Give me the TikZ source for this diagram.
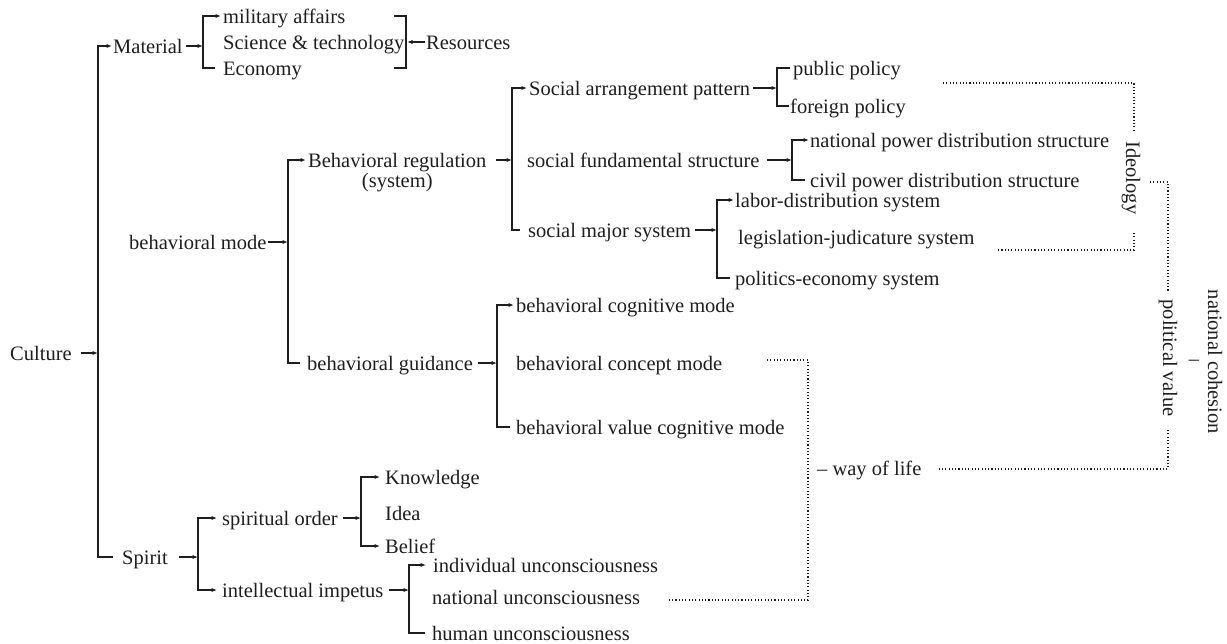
\documentclass[tikz,border=0pt]{standalone}
\usepackage{fontspec}
\setmainfont{Liberation Serif}
\usetikzlibrary{arrows.meta}
\definecolor{ink}{HTML}{1E1E1E}
\begin{document}
\begin{tikzpicture}[x=1pt,y=-1pt,
  tf/.style={inner sep=0pt,text height=15pt,text depth=1pt,font=\fontsize{20.5}{22}\selectfont,text=ink},
  txt/.style={tf,anchor=west},
  rtxt/.style={tf,anchor=center,rotate=-90},
  ln/.style={draw=ink,line width=1.15pt},
  arr/.style={ln,-{Latex[length=5.5pt,width=4.2pt]}},
  barr/.style={ln,{Latex[length=5.5pt,width=4.2pt]}-{Latex[length=5.5pt,width=4.2pt]}},
  dot/.style={draw=ink,line width=1.15pt,dash pattern=on 1.1pt off 2.2pt}]
\useasboundingbox (0,0) rectangle (1227,643);
% vertical bracket positions
\coordinate (v0) at (98,0);
\coordinate (v1) at (203,0);
\coordinate (v2) at (406,0);
\coordinate (vbm) at (288,0);
\coordinate (vbr) at (512,0);
\coordinate (vsa) at (777,0);
\coordinate (vsf) at (792,0);
\coordinate (vsm) at (717,0);
\coordinate (vbg) at (497,0);
\coordinate (vsp) at (198,0);
\coordinate (vso) at (361,0);
\coordinate (vii) at (409,0);
% nodes
\node[txt] (culture) at (10,353) {Culture};
\node[txt] (material) at (113,46) {Material};
\node[txt] (mil) at (223,16) {military affairs};
\node[txt] (sci) at (223,42) {Science \& technology};
\node[txt] (eco) at (223,68) {Economy};
\node[txt] (res) at (426,42) {Resources};
\node[txt] (bmode) at (129,242) {behavioral mode};
\node[txt,label={[tf,label distance=4pt]below:(system)}] (breg) at (308,160) {Behavioral regulation};
\node[txt] (bguid) at (307,363) {behavioral guidance};
\node[txt] (sarr) at (529,88) {Social arrangement pattern};
\node[txt] (sfund) at (527,160) {social fundamental structure};
\node[txt] (smaj) at (528,230) {social major system};
\node[txt] (pub) at (793,68) {public policy};
\node[txt] (forp) at (790,106) {foreign policy};
\node[txt] (npd) at (810,140) {national power distribution structure};
\node[txt] (cpd) at (810,180) {civil power distribution structure};
\node[txt] (labor) at (735,200) {labor-distribution system};
\node[txt] (legis) at (738,237) {legislation-judicature system};
\node[txt] (polit) at (735,278) {politics-economy system};
\node[txt] (bcog) at (516,305) {behavioral cognitive mode};
\node[txt] (bcon) at (516,363) {behavioral concept mode};
\node[txt] (bval) at (516,427) {behavioral value cognitive mode};
\node[txt] (spirit) at (122,557) {Spirit};
\node[txt] (sord) at (222,518) {spiritual order};
\node[txt] (intel) at (222,590) {intellectual impetus};
\node[txt] (know) at (385,477) {Knowledge};
\node[txt] (idea) at (385,513) {Idea};
\node[txt] (belief) at (385,546) {Belief};
\node[txt] (indiv) at (433,565) {individual unconsciousness};
\node[txt] (natu) at (432,597) {national unconsciousness};
\node[txt] (human) at (432,633) {human unconsciousness};
\node[txt] (way) at (817,468) {– way of life};
\node[rtxt] (ideo) at (1133,178) {Ideology};
\node[rtxt] (ncoh) at (1215,362) {national cohesion};
\node[tf,anchor=center] (bar) at (1194,358) {–};
\node[rtxt] (pval) at (1170,358) {political value};
% connectors
\draw[arr] ([xshift=9pt]culture.east) -- (culture.east -| v0);
\draw[arr] ([xshift=-9pt]spirit.west) -- (spirit.west -| v0) -- (material.west -| v0) -- ([xshift=-1pt]material.west);
\draw[arr] ([xshift=3pt]material.east) -- (material.east -| v1);
\draw[arr] ([xshift=-8pt]eco.west) -- (eco.west -| v1) -- (mil.west -| v1) -- ([xshift=-2pt]mil.west);
\coordinate (v2t) at (mil.east -| v2);
\coordinate (v2b) at (eco.east -| v2);
\draw[ln] ([xshift=-12pt]v2t) -- (v2t) -- (v2b) -- ([xshift=-12pt]v2b);
\draw[arr] ([xshift=-1pt]res.west) -- ([xshift=1pt]res.west -| v2);
\draw[arr] ([xshift=1pt]bmode.east) -- (bmode.east -| vbm);
\draw[arr] ([xshift=-7pt]bguid.west) -- (bguid.west -| vbm) -- (breg.west -| vbm) -- ([xshift=-2pt]breg.west);
\draw[arr] ([xshift=9pt]breg.east) -- (breg.east -| vbr);
\draw[arr] ([xshift=-8pt]smaj.west) -- (smaj.west -| vbr) -- (sarr.west -| vbr) -- ([xshift=-2pt]sarr.west);
\draw[arr] ([xshift=3pt]sarr.east) -- (sarr.east -| vsa);
\draw[ln] ([xshift=-1pt]forp.west) -- (forp.west -| vsa) -- (pub.west -| vsa) -- ([xshift=-3pt]pub.west);
\draw[arr] ([xshift=7pt]sfund.east) -- (sfund.east -| vsf);
\draw[arr] ([xshift=-5pt]cpd.west) -- (cpd.west -| vsf) -- (npd.west -| vsf) -- ([xshift=-1pt]npd.west);
\draw[arr] ([xshift=4pt]smaj.east) -- (smaj.east -| vsm);
\draw[arr] ([xshift=-5pt]polit.west) -- (polit.west -| vsm) -- (labor.west -| vsm) -- ([xshift=-1pt]labor.west);
\draw[arr] ([xshift=5pt]bguid.east) -- (bguid.east -| vbg);
\draw[arr] ([xshift=-6pt]bval.west) -- (bval.west -| vbg) -- (bcog.west -| vbg) -- ([xshift=-2pt]bcog.west);
\draw[arr] ([xshift=11pt]spirit.east) -- (spirit.east -| vsp);
\draw[barr] ([xshift=-5pt]sord.west) -- (sord.west -| vsp) -- (intel.west -| vsp) -- ([xshift=-5pt]intel.west);
\draw[arr] ([xshift=5pt]sord.east) -- (sord.east -| vso);
\draw[barr] ([xshift=-5pt]know.west) -- (know.west -| vso) -- (belief.west -| vso) -- ([xshift=-5pt]belief.west);
\draw[arr] ([xshift=5pt]intel.east) -- (intel.east -| vii);
\draw[arr] ([xshift=-7pt]human.west) -- (human.west -| vii) -- (indiv.west -| vii) -- ([xshift=-7pt]indiv.west);
% dotted connectors
\coordinate (d1a) at (943,83); \coordinate (d1b) at (1134,83); \coordinate (d1c) at (1134,132);
\draw[dot] (d1a) -- (d1b) -- (d1c);
\coordinate (d2a) at (1134,233); \coordinate (d2b) at (1134,250); \coordinate (d2c) at (997,250);
\draw[dot] (d2a) -- (d2b) -- (d2c);
\coordinate (d3a) at (1150,182); \coordinate (d3b) at (1168,182); \coordinate (d3c) at (1168,291);
\draw[dot] (d3a) -- (d3b) -- (d3c);
\coordinate (d4a) at (1168,430); \coordinate (d4b) at (1168,469); \coordinate (d4c) at (937,469);
\draw[dot] (d4a) -- (d4b) -- (d4c);
\coordinate (d5a) at (767,360); \coordinate (d5b) at (808,360); \coordinate (d5c) at (808,600); \coordinate (d5d) at (668,600);
\draw[dot] (d5a) -- (d5b) -- (d5c) -- (d5d);
\end{tikzpicture}
\end{document}
